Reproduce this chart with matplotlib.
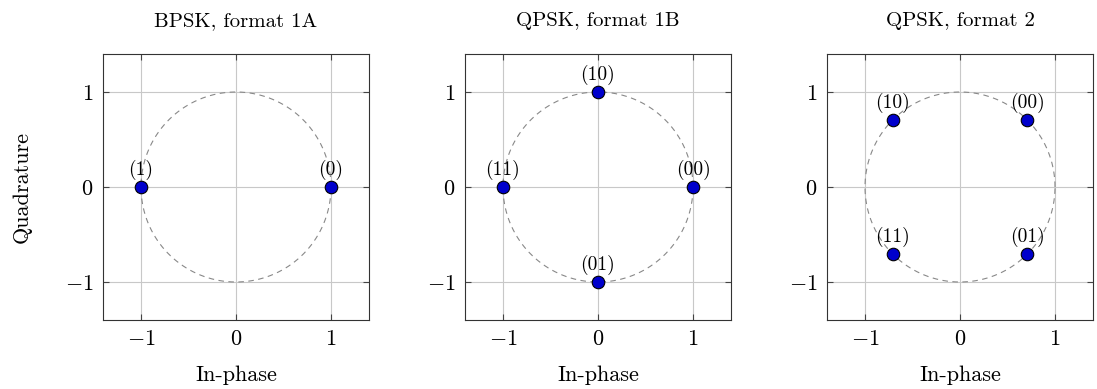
import matplotlib
matplotlib.use("Agg")
import matplotlib.pyplot as plt
import numpy as np

plt.rcParams["font.family"] = ["cmr10", "DejaVu Serif"]
plt.rcParams["mathtext.fontset"] = "cm"
plt.rcParams["axes.formatter.use_mathtext"] = True

titles = ["BPSK, format 1A", "QPSK, format 1B", "QPSK, format 2"]
r = np.sqrt(0.5)
points_x = [[1, -1], [1, 0, -1, 0], [r, -r, -r, r]]
points_y = [[0, 0], [0, 1, 0, -1], [r, r, -r, -r]]
point_labels = [["(0)", "(1)"], ["(00)", "(10)", "(11)", "(01)"],
                ["(00)", "(10)", "(11)", "(01)"]]
ticks = [-1, 0, 1]

fig = plt.figure(figsize=(10.97, 3.89), dpi=100)
W, H = 1097, 389
lefts = [103, 465, 827]
for i, left in enumerate(lefts):
    ax = fig.add_axes([left / W, 1 - 320 / H, 266 / W, 266 / H])
    t = np.linspace(0, 2 * np.pi, 300)
    ax.plot(np.cos(t), np.sin(t), ls=(0, (5, 4)), color="#888888", lw=0.8, zorder=2)
    ax.plot(points_x[i], points_y[i], "o", ms=9, mfc="#0000cc", mec="black",
            mew=0.8, zorder=4, clip_on=False)
    for x, y, lab in zip(points_x[i], points_y[i], point_labels[i]):
        ax.annotate(lab, (x, y), xytext=(0, 5), textcoords="offset points",
                    ha="center", va="bottom", fontsize=14, zorder=5)
    ax.set_xlim(-1.4, 1.4)
    ax.set_ylim(-1.4, 1.4)
    ax.set_xticks(ticks)
    ax.set_yticks(ticks)
    ax.grid(True, color="#c8c8c8", lw=0.8, zorder=1)
    ax.set_axisbelow(True)
    ax.tick_params(direction="in", top=True, right=True, labelsize=16, length=4,
                   width=0.8, color="#444444", pad=7)
    for s in ax.spines.values():
        s.set_linewidth(0.8)
        s.set_color("#333333")
    ax.set_title(titles[i], fontsize=15, pad=20)
    ax.set_xlabel("In-phase", fontsize=16, labelpad=12)
    if i == 0:
        ax.set_ylabel("Quadrature", fontsize=16, labelpad=24)

fig.savefig("out.png", dpi=100)
